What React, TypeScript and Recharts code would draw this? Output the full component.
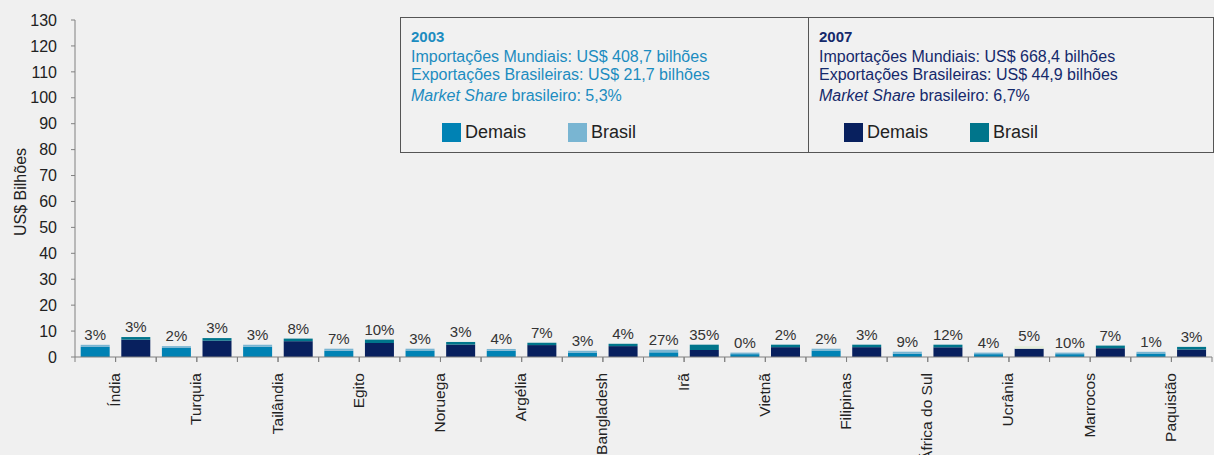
import { BarChart, Bar, XAxis, YAxis, Cell, LabelList } from 'recharts';

const countries = ['Índia', 'Turquia', 'Tailândia', 'Egito', 'Noruega', 'Argélia', 'Bangladesh', 'Irã', 'Vietnã', 'Filipinas', 'África do Sul', 'Ucrânia', 'Marrocos', 'Paquistão'];

// US$ bilhões
const demais2003 = [3.9, 3.5, 3.95, 2.4, 2.5, 2.4, 1.7, 1.8, 1.1, 2.5, 1.3, 1.1, 1.1, 1.35];
const brasil2003 = [0.8, 0.7, 0.8, 0.8, 0.7, 0.7, 0.7, 1.0, 0.6, 0.7, 0.75, 0.6, 0.6, 0.65];
const demais2007 = [6.7, 6.3, 6.1, 5.4, 4.8, 4.6, 4.2, 2.7, 3.8, 3.8, 3.75, 3.2, 3.4, 2.9];
const brasil2007 = [1.0, 1.0, 1.0, 1.3, 1.0, 0.9, 0.9, 2.05, 0.95, 0.95, 1.0, 1.0, 1.0, 1.0];

// market share brasileiro (%)
const share2003 = [3, 2, 3, 7, 3, 4, 3, 27, 0, 2, 9, 4, 10, 1];
const share2007 = [3, 3, 8, 10, 3, 7, 4, 35, 2, 3, 12, 5, 7, 3];

const yTicks = [0, 10, 20, 30, 40, 50, 60, 70, 80, 90, 100, 110, 120, 130];

const data = countries.flatMap((c, i) => [
  { key: `${c}-2003`, country: c, year: 2003, demais: demais2003[i], brasil: brasil2003[i], share: `${share2003[i]}%` },
  { key: `${c}-2007`, country: c, year: 2007, demais: demais2007[i], brasil: brasil2007[i], share: `${share2007[i]}%` },
]);

const W = 1214;
const H = 455;
const Y_AXIS_W = 75;
const X_AXIS_H = 98;
const AXIS_Y = H - X_AXIS_H;
const RIGHT = 2;
const BAND = (W - Y_AXIS_W - RIGHT) / data.length;
const FONT = '"Liberation Sans", Arial, sans-serif';

const C_DEMAIS_03 = '#0082b4';
const C_BRASIL_03 = '#79b5d2';
const C_DEMAIS_07 = '#08205e';
const C_BRASIL_07 = '#00758b';
const TXT_03 = '#1c8cc0';
const TXT_07 = '#15296b';

function XTick(props: any) {
  const { x, payload } = props;
  const idx = payload.index ?? props.index;
  const right = x + BAND / 2;
  const left = x - BAND / 2;
  const isSecond = idx % 2 === 1;
  const labelX = isSecond ? left - 1 : right - 1;
  return (
    <g>
      <line x1={left} x2={left} y1={AXIS_Y} y2={AXIS_Y + 5} stroke="#808080" />
      <line x1={right} x2={right} y1={AXIS_Y} y2={AXIS_Y + 5} stroke="#808080" />
      {isSecond && (
        <text
          x={labelX}
          y={373}
          transform={`rotate(-90 ${labelX} 373)`}
          textAnchor="end"
          dominantBaseline="central"
          fontSize={15.5}
          fill="#222"
        >
          {countries[Math.floor(idx / 2)]}
        </text>
      )}
    </g>
  );
}

function YLabel() {
  return (
    <text x={20} y={192} transform="rotate(-90 20 192)" textAnchor="middle" dominantBaseline="central" fontSize={16} fill="#222">
      US$ Bilhões
    </text>
  );
}

function InfoBox({ left, width, year, color, lines, cDemais, cBrasil, textLeft, sqLeft }: any) {
  return (
    <div
      style={{
        position: 'absolute',
        left,
        top: 17,
        width,
        height: 136,
        boxSizing: 'border-box',
        border: '1px solid #555',
        background: '#f1f1f1',
        fontFamily: FONT,
        color,
      }}
    >
      <div style={{ position: 'absolute', left: textLeft, top: 10, fontSize: 15, lineHeight: '18px', fontWeight: 'bold' }}>{year}</div>
      <div style={{ position: 'absolute', left: textLeft, top: 30, fontSize: 16, lineHeight: '18px', whiteSpace: 'nowrap' }}>{lines[0]}</div>
      <div style={{ position: 'absolute', left: textLeft, top: 48, fontSize: 16, lineHeight: '18px', whiteSpace: 'nowrap' }}>{lines[1]}</div>
      <div style={{ position: 'absolute', left: textLeft, top: 69, fontSize: 16, lineHeight: '18px', whiteSpace: 'nowrap' }}>
        <i>Market Share</i> brasileiro: {lines[2]}
      </div>
      <div style={{ position: 'absolute', left: sqLeft, top: 105, width: 19, height: 19, background: cDemais }} />
      <div style={{ position: 'absolute', left: sqLeft + 23, top: 104, fontSize: 18, lineHeight: '21px', color: '#222' }}>Demais</div>
      <div style={{ position: 'absolute', left: sqLeft + 126, top: 105, width: 19, height: 19, background: cBrasil }} />
      <div style={{ position: 'absolute', left: sqLeft + 149, top: 104, fontSize: 18, lineHeight: '21px', color: '#222' }}>Brasil</div>
    </div>
  );
}

export default function App() {
  return (
    <div style={{ position: 'relative', width: W, height: H, background: '#f0f0f0', fontFamily: FONT, overflow: 'hidden' }}>
      <style>{'body{margin:0;background:#f0f0f0;}'}</style>
      <BarChart
        width={W}
        height={H}
        data={data}
        margin={{ top: 20, right: RIGHT, bottom: 0, left: 0 }}
        barCategoryGap="14%"
        style={{ fontFamily: FONT }}
      >
        <XAxis
          dataKey="key"
          height={X_AXIS_H}
          interval={0}
          tickLine={false}
          axisLine={{ stroke: '#808080' }}
          tick={<XTick />}
        />
        <YAxis
          width={Y_AXIS_W}
          domain={[0, 130]}
          ticks={yTicks}
          interval={0}
          tickSize={4}
          tickMargin={14}
          axisLine={{ stroke: '#808080' }}
          tickLine={{ stroke: '#808080' }}
          tick={{ fontSize: 16, fill: '#222' }}
          label={<YLabel />}
        />
        <Bar dataKey="demais" stackId="s" isAnimationActive={false}>
          {data.map((d, i) => (
            <Cell key={`d-${i}`} fill={d.year === 2003 ? C_DEMAIS_03 : C_DEMAIS_07} />
          ))}
        </Bar>
        <Bar dataKey="brasil" stackId="s" isAnimationActive={false}>
          {data.map((d, i) => (
            <Cell
              key={`b-${i}`}
              fill={d.year === 2003 ? C_BRASIL_03 : d.country === 'Ucrânia' ? '#e4eddb' : C_BRASIL_07}
            />
          ))}
          <LabelList dataKey="share" position="top" offset={5} fontSize={15} fill="#333" />
        </Bar>
      </BarChart>
      <InfoBox
        left={400}
        width={409}
        year="2003"
        color={TXT_03}
        lines={['Importações Mundiais: US$ 408,7 bilhões', 'Exportações Brasileiras: US$ 21,7 bilhões', '5,3%']}
        cDemais={C_DEMAIS_03}
        cBrasil={C_BRASIL_03}
        textLeft={10}
        sqLeft={41}
      />
      <InfoBox
        left={808}
        width={406}
        year="2007"
        color={TXT_07}
        lines={['Importações Mundiais: US$ 668,4 bilhões', 'Exportações Brasileiras: US$ 44,9 bilhões', '6,7%']}
        cDemais={C_DEMAIS_07}
        cBrasil={C_BRASIL_07}
        textLeft={10}
        sqLeft={35}
      />
    </div>
  );
}
